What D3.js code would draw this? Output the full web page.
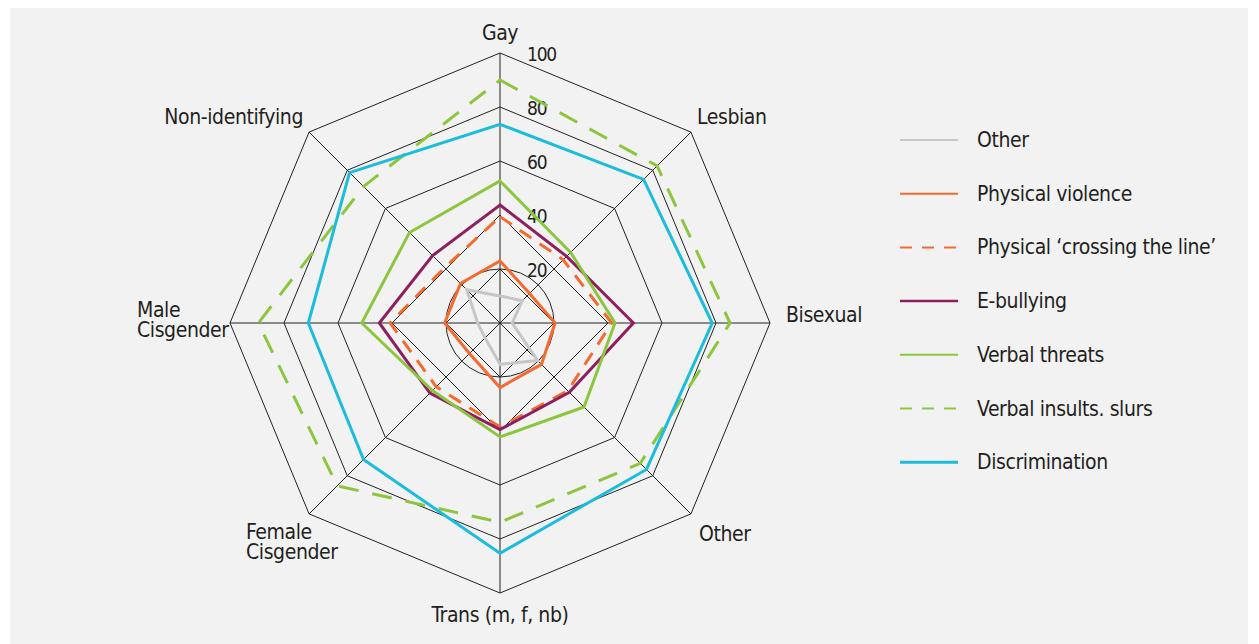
<!DOCTYPE html>
<html lang="en">
<head>
<meta charset="UTF-8">
<title>Radar</title>
<script src="https://cdn.jsdelivr.net/npm/d3@7"></script>
<style>
  body { margin: 0; background: #fff; }
  text { font-family: "Liberation Sans Narrow", "DejaVu Sans Condensed", "Roboto", sans-serif; fill: #231f20; letter-spacing: -0.4px; }
</style>
</head>
<body>
<svg id="chart"></svg>
<script>
// axes, clockwise from the top
var axes = ["Gay", "Lesbian", "Bisexual", "Other", "Trans (m, f, nb)", "Female Cisgender", "Male Cisgender", "Non-identifying"];
var ticks = [20, 40, 60, 80, 100];

var other         = [10, 11.7, 4.5, 19.7, 15.3, 7.8, 8.3, 17.4];
var physViolence  = [23, 15.5, 20.4, 21.7, 23.9, 16, 20.5, 20.7];
var physCrossing  = [39.4, 33.1, 41.4, 35.5, 38.5, 33.4, 40.7, 29];
var eBullying     = [43.7, 34.9, 49.4, 36.3, 39.5, 36.7, 44.7, 35.3];
var verbalThreats = [52.6, 37, 42.6, 44, 42.2, 35.4, 51.2, 47.4];
var verbalInsults = [90, 82.3, 85.2, 73.5, 73.8, 85.3, 89.5, 71.5];
var discrimination = [73.6, 75.2, 78.6, 76.7, 85.3, 71.5, 71, 78.8];

var seriesNames = ["Other", "Physical violence", "Physical \u2018crossing the line\u2019", "E-bullying", "Verbal threats", "Verbal insults. slurs", "Discrimination"];
var seriesValues = [other, physViolence, physCrossing, eBullying, verbalThreats, verbalInsults, discrimination];

var width = 1259, height = 644;
var cx = 500, cy = 323, R = 270;

var svg = d3.select("#chart").attr("width", width).attr("height", height);

svg.append("rect").attr("x", 10).attr("y", 8).attr("width", 1238).attr("height", 636).attr("fill", "#f2f2f2");

var g = svg.append("g").attr("transform", "translate(" + cx + "," + cy + ")");

var r = d3.scaleLinear().domain([0, 100]).range([0, R]);
var angle = d3.scaleLinear().domain([0, axes.length]).range([0, 2 * Math.PI]);

// styles per series
var styles = [
  { color: "#c6c6c6", width: 3, dash: null, lw: 2, ldash: null },
  { color: "#f36b2f", width: 3, dash: null, lw: 2, ldash: null },
  { color: "#f36b2f", width: 3, dash: "14,10", lw: 2, ldash: "12,10" },
  { color: "#8e1f5f", width: 3, dash: null, lw: 2.5, ldash: null },
  { color: "#8cc63f", width: 3, dash: null, lw: 2, ldash: null },
  { color: "#8cc63f", width: 3, dash: "20,14", lw: 2, ldash: "12,10" },
  { color: "#1bbcdc", width: 3, dash: null, lw: 3, ldash: null }
];

function pt(i, v) {
  var a = angle(i);
  return [r(v) * Math.sin(a), -r(v) * Math.cos(a)];
}

// grid: circle at 20, squares through main axes at 20 and 40, octagons beyond
var grid = g.append("g").attr("stroke", "#222").attr("stroke-width", 1).attr("fill", "none");
grid.append("circle").attr("r", r(20));
[20, 40].forEach(function (t) {
  var pts = [0, 2, 4, 6].map(function (i) { return pt(i, t); });
  grid.append("polygon").attr("points", pts.join(" "));
});
[60, 80, 100].forEach(function (t) {
  var pts = axes.map(function (d, i) { return pt(i, t); });
  grid.append("polygon").attr("points", pts.join(" "));
});
axes.forEach(function (d, i) {
  var p = pt(i, 100);
  grid.append("line").attr("x1", 0).attr("y1", 0).attr("x2", p[0]).attr("y2", p[1]);
});

// tick labels
g.selectAll(".tick").data(ticks).enter().append("text")
  .attr("class", "tick")
  .attr("x", 27)
  .attr("y", function (d) { return -r(d) + 1; })
  .attr("dominant-baseline", "central")
  .style("font-size", "19px")
  .style("letter-spacing", "-1.2px")
  .text(function (d) { return d; });

// series
var line = d3.lineRadial()
  .angle(function (d, i) { return angle(i); })
  .radius(function (d) { return r(d); })
  .curve(d3.curveLinearClosed);

seriesValues.forEach(function (vals, k) {
  var s = styles[k];
  g.append("path")
    .attr("d", line(vals))
    .attr("fill", "none")
    .attr("stroke", s.color)
    .attr("stroke-width", s.width)
    .attr("stroke-linejoin", "miter")
    .attr("stroke-dasharray", s.dash);
});

// axis labels
var labelPos = [
  { dx: 0, dy: -283, anchor: "middle", lines: ["Gay"] },
  { dx: 197, dy: -199, anchor: "start", lines: ["Lesbian"] },
  { dx: 286, dy: -1, anchor: "start", lines: ["Bisexual"] },
  { dx: 199, dy: 218, anchor: "start", lines: ["Other"] },
  { dx: 0, dy: 299, anchor: "middle", lines: ["Trans (m, f, nb)"] },
  { dx: -254, dy: 216, anchor: "start", lines: ["Female", "Cisgender"] },
  { dx: -363, dy: -6, anchor: "start", lines: ["Male", "Cisgender"] },
  { dx: -197, dy: -199, anchor: "end", lines: ["Non-identifying"] }
];
labelPos.forEach(function (p) {
  var t = g.append("text")
    .attr("x", p.dx).attr("y", p.dy)
    .attr("text-anchor", p.anchor)
    .style("font-size", "21px");
  p.lines.forEach(function (l, j) {
    t.append("tspan").attr("x", p.dx).attr("dy", j === 0 ? 0 : 20).text(l);
  });
});

// legend
var legend = svg.append("g").attr("transform", "translate(900,140)");
seriesNames.forEach(function (name, k) {
  var s = styles[k];
  var row = legend.append("g").attr("transform", "translate(0," + (k * 53.7) + ")");
  row.append("line").attr("x1", 0).attr("x2", 58).attr("y1", 0).attr("y2", 0)
    .attr("stroke", s.color).attr("stroke-width", s.lw).attr("stroke-dasharray", s.ldash);
  row.append("text").attr("x", 77).attr("y", 0)
    .attr("dominant-baseline", "central")
    .style("font-size", "21px")
    .text(name);
});
</script>
</body>
</html>
